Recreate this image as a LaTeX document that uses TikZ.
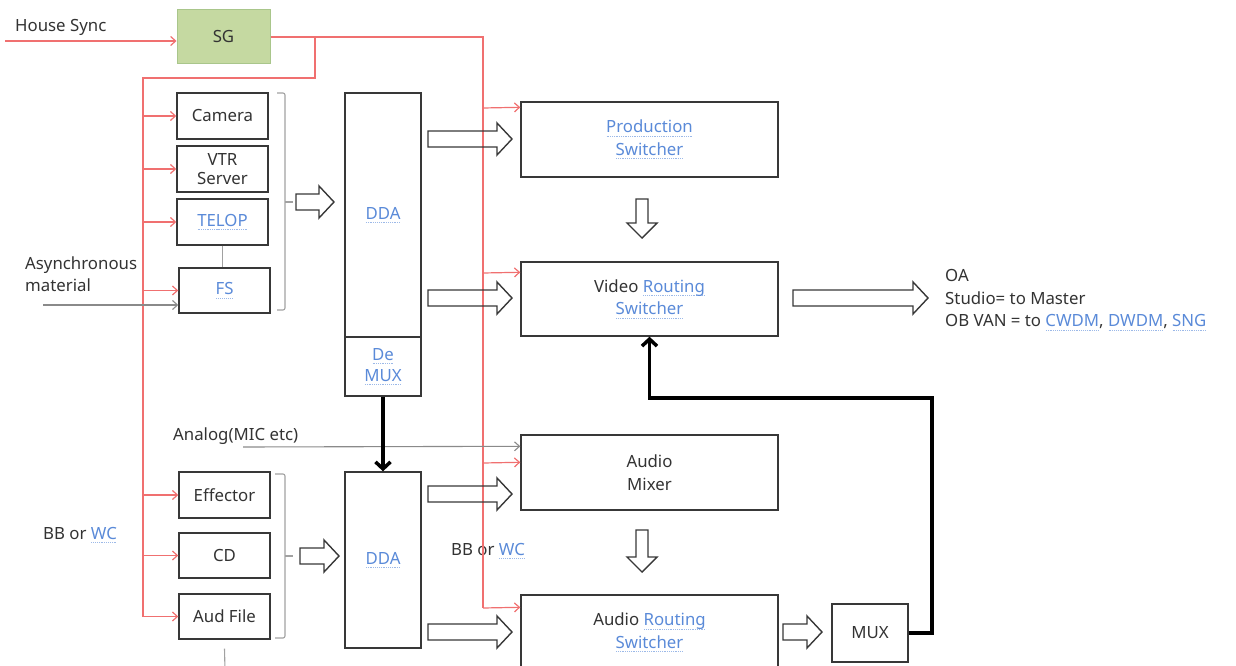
\documentclass[tikz,border=0pt]{standalone}
\usepackage{fontspec}
\setmainfont{Noto Sans}
\usetikzlibrary{arrows.meta}
\definecolor{txt}{HTML}{333333}
\definecolor{lnk}{HTML}{5A8AD8}
\definecolor{syn}{HTML}{F07070}
\definecolor{bord}{HTML}{383838}
\definecolor{sgf}{HTML}{C5D9A1}
\definecolor{sgd}{HTML}{A9C68B}
\definecolor{gln}{HTML}{8A8A8A}
\newsavebox\lkbox
\newcommand\lk[1]{\sbox\lkbox{\color{lnk}#1}\rlap{\raisebox{-3.5pt}{\color{lnk!60}\hbox to\wd\lkbox{\xleaders\hbox to 1.8pt{\hss\rule{1pt}{0.7pt}\hss}\hfill}}}\usebox\lkbox}
\newcommand\harr[3]{\draw[blk] (#1,#3-8) -- (#2-15,#3-8) -- (#2-15,#3-16) -- (#2,#3) -- (#2-15,#3+16) -- (#2-15,#3+8) -- (#1,#3+8) -- cycle;}
\newcommand\varr[3]{\draw[blk] (#1-6,#2) -- (#1+6,#2) -- (#1+6,#3-15) -- (#1+15,#3-15) -- (#1,#3) -- (#1-15,#3-15) -- (#1-6,#3-15) -- cycle;}
\tikzset{
 box/.style={draw=bord, line width=1.4pt, text=txt, align=center, inner sep=0pt, font=\fontsize{16.8}{22.5}\selectfont},
 sync/.style={draw=syn, line width=1.2pt},
 synca/.style={sync, -{Straight Barb[length=5pt,width=9pt]}},
 grayln/.style={draw=gln, line width=1.1pt},
 graya/.style={grayln, -{Straight Barb[length=5pt,width=9pt]}},
 brk/.style={draw=gln!80, line width=1.1pt, rounded corners=2pt},
 blk/.style={draw=bord, line width=1.4pt},
 thickarr/.style={draw=black, line width=3.5pt, -{Straight Barb[length=7pt,width=15pt]}},
 lbl/.style={text=txt, font=\fontsize{16.8}{22.5}\selectfont, inner sep=0pt, anchor=west, align=left},
}
\begin{document}
\begin{tikzpicture}[x=1pt,y=-1pt]
\useasboundingbox (0,0) rectangle (1236,666);
% SG
\node[box, draw=sgd, fill=sgf, line width=1pt, minimum width=93pt, minimum height=54pt] (sg) at (223.5,37) {SG};
% video sources
\node[box, minimum width=91pt, minimum height=46pt] (cam) at (222.5,116) {Camera};
\node[box, minimum width=91pt, minimum height=46pt] (vtr) at (222.5,169) {VTR\\[-3pt]Server};
\node[box, minimum width=91pt, minimum height=46pt] (telop) at (222.5,222) {\lk{TELOP}};
\node[box, minimum width=91pt, minimum height=45pt] (fs) at (224.5,290.5) {\lk{FS}};
% audio sources
\node[box, minimum width=91pt, minimum height=46pt] (eff) at (224.5,495) {Effector};
\node[box, minimum width=91pt, minimum height=45pt] (cd) at (224.5,555.5) {CD};
\node[box, minimum width=91pt, minimum height=45pt] (aud) at (224.5,616.5) {Aud File};
% DDA / DeMUX
\node[box, minimum width=76pt, minimum height=244pt] (dda1) at (383,215) {\lk{DDA}};
\node[box, minimum width=76pt, minimum height=59pt] (demux) at (383,366.5) {\lk{De}\\[-2pt]\lk{MUX}};
\node[box, minimum width=76pt, minimum height=176pt] (dda2) at (383,560) {\lk{DDA}};
% switchers
\node[box, minimum width=257pt, minimum height=75pt] (prod) at (649.5,139.5) {\lk{Production}\\\lk{Switcher}};
\node[box, minimum width=257pt, minimum height=74pt] (vrs) at (649.5,299) {Video \lk{Routing}\\\lk{Switcher}};
\node[box, minimum width=257pt, minimum height=75pt] (amix) at (649.5,472.5) {Audio\\Mixer};
\node[box, minimum width=257pt, minimum height=75pt] (ars) at (649.5,632.5) {Audio \lk{Routing}\\\lk{Switcher}};
\node[box, minimum width=76pt, minimum height=58pt] (mux) at (870,633) {MUX};
% labels
\node[lbl] (hs) at (15,27) {House Sync};
\node[lbl] (async) at (25,274) {Asynchronous\\material};
\node[lbl] (analog) at (173,436) {Analog(MIC etc)};
\node[lbl] (bb1) at (43,535) {BB or \lk{WC}};
\node[lbl] (bb2) at (451,551) {BB or \lk{WC}};
\node[lbl] (oa) at (945,300) {OA\\Studio= to Master\\OB VAN = to \lk{CWDM}, \lk{DWDM}, \lk{SNG}};
% sync distribution
\coordinate (hsin) at (5,41);
\coordinate (busR) at (483,37);
\coordinate (br) at (315,37);
\coordinate (busL) at (143,78);
\draw[synca] (hsin) -- (hsin -| sg.west);
\draw[sync] (sg.east) -- (busR) -- (483,608);
\draw[sync] (br) -- (315,78) -- (busL) -- (143,617);
\foreach \n in {cam,vtr,telop,fs,eff,cd,aud} \draw[synca] (busL |- \n.west) -- (\n.west);
\draw[synca] (483,108) -- ([yshift=-6pt]prod.north west);
\draw[synca] (483,273) -- ([yshift=-11pt]vrs.north west);
\draw[synca] (483,463) -- ([yshift=-28pt]amix.north west);
\draw[synca] (483,608) -- ([yshift=-13pt]ars.north west);
% gray inputs
\draw[graya] (43,305) -- ([yshift=-14.5pt]fs.west);
\draw[graya] (243,447) -- ([yshift=-12pt]amix.north west);
\draw[grayln, draw=gln!80] (telop.south) -- (telop.south |- fs.north);
\draw[grayln, draw=gln!80] ([yshift=-9pt]aud.south) -- (225,670);
% brackets
\draw[brk] (277,93) -- (285,93) -- (285,310) -- (277,310);
\draw[grayln, draw=gln!80] (285,202) -- (293,202);
\draw[brk] (275,474) -- (285,474) -- (285,638) -- (275,638);
\draw[grayln, draw=gln!80] (285,556) -- (293,556);
% block arrows
\harr{296}{334}{202}
\harr{300}{339}{556}
\harr{428}{512}{139}
\harr{428}{512}{298}
\harr{428}{512}{494}
\harr{428}{512}{632}
\harr{793}{928}{298}
\harr{783}{822}{632}
\varr{642}{199}{238}
\varr{642}{530}{572}
% thick connections
\draw[thickarr] (demux.south) -- (dda2.north);
\draw[thickarr] (mux.east) -| (932,398) -| (vrs.south);
\end{tikzpicture}
\end{document}
